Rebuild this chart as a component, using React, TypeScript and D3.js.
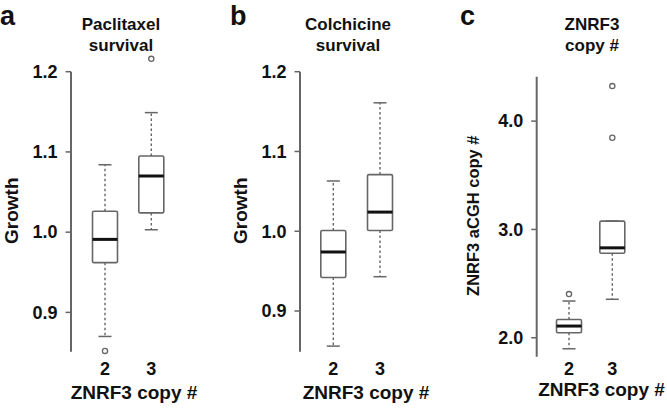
import { format, scaleLinear, scalePoint } from "d3"

// five-number summaries per copy-number group: [lower whisker, q1, median, q3, upper whisker]
const groups = ["2", "3"]

const paclitaxelStats = [
    [0.870, 0.962, 0.991, 1.026, 1.084],
    [1.003, 1.024, 1.070, 1.095, 1.149],
]
const paclitaxelOutliers = [[0.852], [1.216]]
const paclitaxelTicks = [0.9, 1.0, 1.1, 1.2]

const colchicineStats = [
    [0.856, 0.942, 0.974, 1.001, 1.063],
    [0.943, 1.001, 1.024, 1.071, 1.161],
]
const colchicineOutliers = [[], []]
const colchicineTicks = [0.9, 1.0, 1.1, 1.2]

const copyStats = [
    [1.898, 2.046, 2.108, 2.169, 2.339],
    [2.355, 2.780, 2.830, 3.077, 3.077],
]
const copyOutliers = [[2.403], [3.846, 4.323]]
const copyTicks = [2.0, 3.0, 4.0]

const font = "'Liberation Sans', Arial, sans-serif"
const grey = "#666"

const panels = [
    {
        letter: "a", letterX: 0, letterY: 25,
        title: ["Paclitaxel", "survival"], titleX: 121,
        yLabel: "Growth", yLabelX: 18, yLabelSize: 19,
        stats: paclitaxelStats, outliers: paclitaxelOutliers, ticks: paclitaxelTicks,
        domain: [0.851, 1.2], top: 71.7, bottom: 351.7,
        axisX: 71, xRange: [105, 151.3], xTitleX: 134, xTitleY: 399,
    },
    {
        letter: "b", letterX: 230, letterY: 25,
        title: ["Colchicine", "survival"], titleX: 348,
        yLabel: "Growth", yLabelX: 246.5, yLabelSize: 19,
        stats: colchicineStats, outliers: colchicineOutliers, ticks: colchicineTicks,
        domain: [0.849, 1.2], top: 71.7, bottom: 351.7,
        axisX: 300, xRange: [333.3, 380], xTitleX: 366, xTitleY: 399,
    },
    {
        letter: "c", letterX: 460, letterY: 25,
        title: ["ZNRF3", "copy #"], titleX: 592,
        yLabel: "ZNRF3 aCGH copy #", yLabelX: 479, yLabelSize: 16.5,
        stats: copyStats, outliers: copyOutliers, ticks: copyTicks,
        domain: [1.825, 4.41], top: 76.7, bottom: 356.7,
        axisX: 536.7, xRange: [569, 612.3], xTitleX: 601.5, xTitleY: 396,
    },
]

const BoxPanel = ({ p }) => {
    const y = scaleLinear().domain(p.domain).range([p.bottom, p.top])
    const x = scalePoint().domain(groups).range(p.xRange)
    const fmt = format(".1f")
    const boxW = 25
    const capW = 13
    const midY = (p.top + p.bottom) / 2 - 1

    return (
        <g>
            <text x={p.letterX} y={p.letterY} fontSize={27} fontWeight="bold" fill="#111">{p.letter}</text>
            {p.title.map((t, i) => (
                <text key={t} x={p.titleX} y={29.5 + i * 21} fontSize={17} fontWeight="bold" textAnchor="middle" fill="#111">{t}</text>
            ))}
            <text transform={`translate(${p.yLabelX},${midY}) rotate(-90)`} fontSize={p.yLabelSize} fontWeight="bold" textAnchor="middle" fill="#111">{p.yLabel}</text>

            <line x1={p.axisX} x2={p.axisX} y1={y(p.domain[0])} y2={y(p.domain[1])} stroke={grey} strokeWidth={2} />
            {p.ticks.map(t => (
                <g key={t}>
                    <line x1={p.axisX - 5.5} x2={p.axisX} y1={y(t)} y2={y(t)} stroke={grey} strokeWidth={1.5} />
                    <text x={p.axisX - 13.5} y={y(t)} dy="0.35em" fontSize={18} fontWeight="bold" textAnchor="end" fill="#111">{fmt(t)}</text>
                </g>
            ))}

            {groups.map((g, i) => {
                const [lo, q1, med, q3, hi] = p.stats[i]
                const cx = x(g)
                return (
                    <g key={g}>
                        {hi > q3 && <line x1={cx} x2={cx} y1={y(q3)} y2={y(hi)} stroke={grey} strokeWidth={1.4} strokeDasharray="2.5,2.5" />}
                        {lo < q1 && <line x1={cx} x2={cx} y1={y(q1)} y2={y(lo)} stroke={grey} strokeWidth={1.4} strokeDasharray="2.5,2.5" />}
                        <line x1={cx - capW / 2} x2={cx + capW / 2} y1={y(hi)} y2={y(hi)} stroke={grey} strokeWidth={1.5} />
                        <line x1={cx - capW / 2} x2={cx + capW / 2} y1={y(lo)} y2={y(lo)} stroke={grey} strokeWidth={1.5} />
                        <rect x={cx - boxW / 2} y={y(q3)} width={boxW} height={y(q1) - y(q3)} fill="#fff" stroke={grey} strokeWidth={1.6} rx={1.5} />
                        <line x1={cx - boxW / 2} x2={cx + boxW / 2} y1={y(med)} y2={y(med)} stroke="#111" strokeWidth={3} />
                        {p.outliers[i].map(o => (
                            <circle key={o} cx={cx} cy={y(o)} r={2.6} fill="none" stroke={grey} strokeWidth={1.3} />
                        ))}
                        <text x={cx} y={375} fontSize={18} fontWeight="bold" textAnchor="middle" fill="#111">{g}</text>
                    </g>
                )
            })}
            <text x={p.xTitleX} y={p.xTitleY} fontSize={19} fontWeight="bold" textAnchor="middle" fill="#111">ZNRF3 copy #</text>
        </g>
    )
}

export default function App() {
    return (
        <svg width={667} height={411} style={{ position: "absolute", left: 0, top: 0, background: "#fff" }} fontFamily={font}>
            {panels.map(p => <BoxPanel key={p.letter} p={p} />)}
        </svg>
    )
}
